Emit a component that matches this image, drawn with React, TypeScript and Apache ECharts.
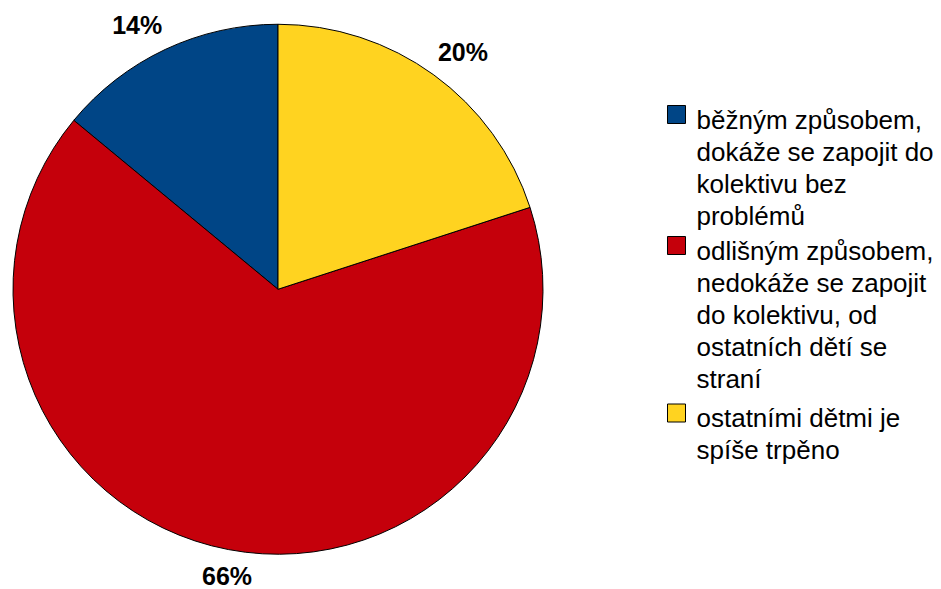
import React, { useEffect, useRef } from "react";
import * as echarts from "echarts";

// Data (order: counter-clockwise from 12 o'clock)
const categories = [
  "běžným způsobem, dokáže se zapojit do kolektivu bez problémů",
  "odlišným způsobem, nedokáže se zapojit do kolektivu, od ostatních dětí se straní",
  "ostatními dětmi je spíše trpěno",
];
const legendLabels = [
  "běžným způsobem,\ndokáže se zapojit do\nkolektivu bez\nproblémů",
  "odlišným způsobem,\nnedokáže se zapojit\ndo kolektivu, od\nostatních dětí se\nstraní",
  "ostatními dětmi je\nspíše trpěno",
];
const values = [14, 66, 20];
const colors = ["#004586", "#C5000B", "#FFD320"];

const FONT = "'Liberation Sans', Arial, Helvetica, sans-serif";
const CX = 278;
const CY = 289.25;
const R = 265;
const LH = 32;
const legendTops = [103, 234, 401.5];

export default function App() {
  const ref = useRef<HTMLDivElement>(null);

  useEffect(() => {
    if (!ref.current) return;
    const chart = echarts.init(ref.current, undefined, { renderer: "svg" });

    const total = values.reduce((a, b) => a + b, 0);
    const mids: number[] = [];
    let cum = 0;
    values.forEach((v) => {
      mids.push(((cum + v / 2) / total) * Math.PI * 2);
      cum += v;
    });

    const legends = categories.map((name, i) => {
      const n = legendLabels[i].split("\n").length;
      const H = n * LH;
      return {
        data: [name],
        left: 667,
        top: legendTops[i],
        orient: "vertical",
        padding: 0,
        itemWidth: 24,
        itemHeight: H,
        icon: `path://M0,0M24,${H}M0,2L18,2L18,20L0,20Z`,
        itemStyle: { borderColor: "#000", borderWidth: 1 },
        selectedMode: false,
        formatter: () => legendLabels[i],
        textStyle: {
          fontFamily: FONT,
          fontSize: 26,
          lineHeight: LH,
          color: "#000",
        },
      };
    });

    chart.setOption({
      animation: false,
      backgroundColor: "#fff",
      legend: legends,
      series: [
        {
          type: "pie",
          center: [CX, CY],
          radius: R,
          startAngle: 90,
          clockwise: false,
          avoidLabelOverlap: false,
          silent: true,
          itemStyle: { borderColor: "#000", borderWidth: 1 },
          label: {
            show: true,
            position: "outside",
            formatter: (p: any) => Math.round(p.percent) + "%",
            fontFamily: FONT,
            fontSize: 25,
            lineHeight: 20,
            fontWeight: "bold",
            color: "#000",
          },
          labelLine: { show: false },
          labelLayout: (p: any) => {
            const mid = mids[p.dataIndex];
            const sx = -Math.sin(mid);
            const sy = -Math.cos(mid);
            const ax = CX + 272 * sx;
            const ay = CY + 281 * sy;
            const align = Math.abs(sx) < 0.3 ? "center" : sx > 0 ? "left" : "right";
            let y = ay;
            if (Math.abs(sy) >= 0.3) y = sy < 0 ? ay - 10 : ay + 11;
            return { x: ax, y, align, verticalAlign: "middle" };
          },
          data: categories.map((name, i) => ({
            name,
            value: values[i],
            itemStyle: { color: colors[i] },
          })),
        },
      ],
    });

    return () => chart.dispose();
  }, []);

  return (
    <div
      ref={ref}
      style={{ position: "absolute", left: 0, top: 0, width: 941, height: 589 }}
    />
  );
}
